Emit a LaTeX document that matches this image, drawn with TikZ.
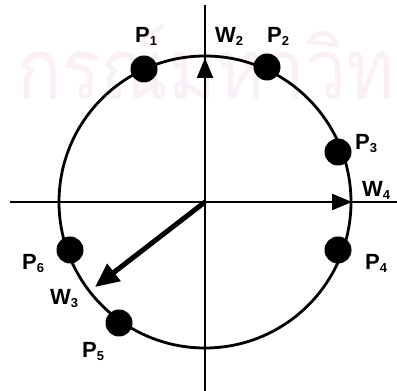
\documentclass[tikz,border=0pt]{standalone}
\usepackage{fontspec}
\setmainfont{Liberation Sans}
\newfontfamily\thaifont[Script=Thai]{Loma}
\usetikzlibrary{arrows.meta}
\newcommand{\lbltxt}[2]{#1\raisebox{-2.5pt}{\fontsize{13}{13}\selectfont #2}}
\begin{document}
\begin{tikzpicture}[x=1pt,y=1pt,
  lbl/.style={font=\bfseries\fontsize{22}{22}\selectfont, inner sep=0pt, anchor=base west},
  dot/.style={circle, fill=black, minimum size=27pt, inner sep=0pt},
  axisline/.style={line width=2.4pt},
  headline/.style={line width=2.4pt, -{Triangle[length=20pt,width=16pt]}},
]
\useasboundingbox (0,0) rectangle (397,391);
\begin{scope}
\clip (0,0) rectangle (397,391);
\node[anchor=base west, text={rgb,255:red,250;green,240;blue,247}, inner sep=0pt, xscale=0.86,
      text depth=0pt, font=\thaifont\fontsize{85}{85}\selectfont] (wm) at (17,291) {กรณ์มหาวิท};
\end{scope}
\coordinate (O) at (205,189);
\coordinate (L) at (10,189);
\coordinate (R) at (397,189);
\coordinate (T) at (205,386);
\coordinate (B) at (205,0);
\coordinate (w2tip) at (205,333);
\coordinate (w4tip) at (352,189);
\coordinate (w3tip) at (95,104);
\draw[line width=2.8pt] (O) circle (146);
\draw[axisline] (L) -- (R);
\draw[axisline] (B) -- (T);
\draw[headline] (O) -- (w2tip);
\draw[headline] (O) -- (w4tip);
\draw[line width=5pt, -{Triangle[length=24pt,width=21pt]}] (O) -- (w3tip);
\node[dot] (p1) at (144,322) {};
\node[dot] (p2) at (267,324) {};
\node[dot] (p3) at (338,239) {};
\node[dot] (p4) at (338,141) {};
\node[dot] (p5) at (119,68) {};
\node[dot] (p6) at (70,141) {};
\node[lbl] (l1) at (135,348) {\lbltxt{P}{1}};
\node[lbl] (lw2) at (215,348) {\lbltxt{W}{2}};
\node[lbl] (l2) at (267,348) {\lbltxt{P}{2}};
\node[lbl] (l3) at (355,241) {\lbltxt{P}{3}};
\node[lbl] (lw4) at (362,194) {\lbltxt{W}{4}};
\node[lbl] (l4) at (365,121) {\lbltxt{P}{4}};
\node[lbl] (l6) at (22,121) {\lbltxt{P}{6}};
\node[lbl] (lw3) at (50,86) {\lbltxt{W}{3}};
\node[lbl] (l5) at (82,33) {\lbltxt{P}{5}};
\end{tikzpicture}
\end{document}
